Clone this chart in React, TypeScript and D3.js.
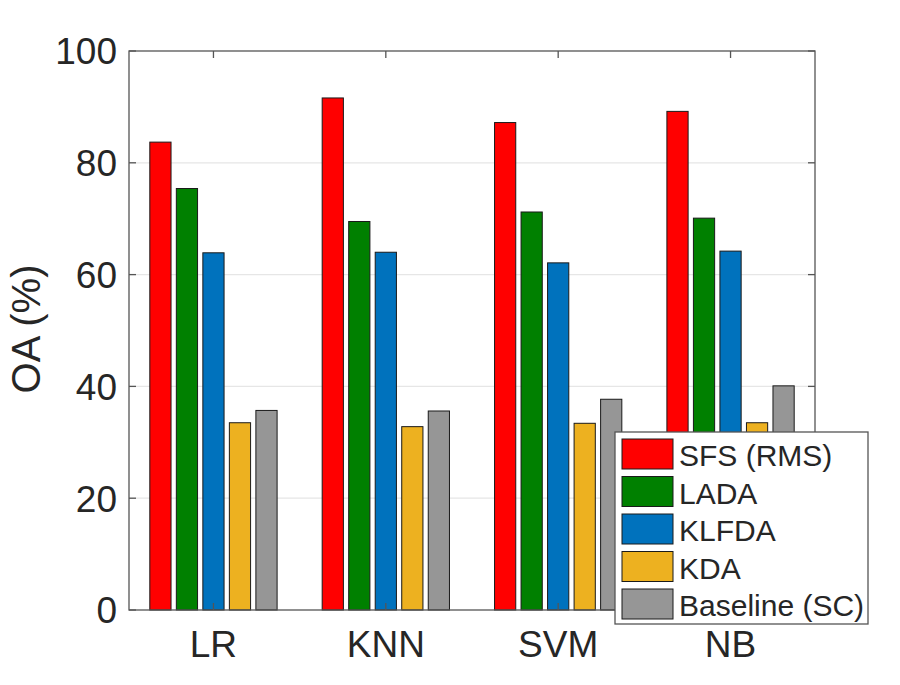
import React from "react";
import * as d3 from "d3";

const categories = ["LR", "KNN", "SVM", "NB"];
const seriesNames = ["SFS (RMS)", "LADA", "KLFDA", "KDA", "Baseline (SC)"];
const seriesColors = ["#ff0000", "#008000", "#0072bd", "#edb120", "#969696"];
const sfs = [83.7, 91.6, 87.2, 89.2];
const lada = [75.4, 69.5, 71.2, 70.1];
const klfda = [63.9, 64.0, 62.1, 64.2];
const kda = [33.5, 32.8, 33.4, 33.5];
const baseline = [35.7, 35.6, 37.7, 40.1];
const yTicks = [0, 20, 40, 60, 80, 100];

const seriesValues = [sfs, lada, klfda, kda, baseline];

const W = 900;
const H = 685;
const left = 129;
const right = 815;
const top = 51;
const bottom = 610;

export default function App() {
  const x = d3.scaleLinear().domain([0.51, 4.49]).range([left, right]);
  const y = d3.scaleLinear().domain([0, 100]).range([bottom, top]);
  const nS = seriesNames.length;
  const groupW = Math.min(0.8, nS / (nS + 1.5));
  const pitch = groupW / nS;
  const barW = pitch * 0.8;
  const unit = x(1) - x(0);
  const textColor = "#262626";
  const axisColor = "#555555";
  const tickLen = 7;

  const legX = 615;
  const legY = 432;
  const legW = 253;
  const legH = 192;
  const rowPitch = 37.5;

  return (
    <svg
      width={W}
      height={H}
      style={{ position: "absolute", left: 0, top: 0, background: "#fff" }}
      fontFamily="'Liberation Sans', Arial, Helvetica, sans-serif"
    >
      <rect x={0} y={0} width={W} height={H} fill="#fff" />
      {yTicks
        .filter((t) => t > 0 && t < 100)
        .map((t) => (
          <line key={"g" + t} x1={left} x2={right} y1={y(t)} y2={y(t)} stroke="#e6e6e6" strokeWidth={1.2} />
        ))}
      {seriesValues.map((vals, si) =>
        vals.map((v, ci) => {
          const cx = ci + 1 + (si - (nS - 1) / 2) * pitch;
          return (
            <rect
              key={`b${si}-${ci}`}
              x={x(cx) - (barW * unit) / 2}
              y={y(v)}
              width={barW * unit}
              height={y(0) - y(v)}
              fill={seriesColors[si]}
              stroke="#1a1a1a"
              strokeWidth={1}
            />
          );
        })
      )}
      <rect x={left} y={top} width={right - left} height={bottom - top} fill="none" stroke={axisColor} strokeWidth={1.3} />
      {yTicks.map((t) => (
        <g key={"yt" + t}>
          <line x1={left} x2={left + tickLen} y1={y(t)} y2={y(t)} stroke={axisColor} strokeWidth={1.3} />
          <line x1={right} x2={right - tickLen} y1={y(t)} y2={y(t)} stroke={axisColor} strokeWidth={1.3} />
          <text x={117} y={y(t)} dy="0.36em" textAnchor="end" fontSize={37} fill={textColor}>
            {t}
          </text>
        </g>
      ))}
      {categories.map((c, i) => (
        <g key={"xt" + c}>
          <line x1={x(i + 1)} x2={x(i + 1)} y1={top} y2={top + tickLen} stroke={axisColor} strokeWidth={1.3} />
          <line x1={x(i + 1)} x2={x(i + 1)} y1={bottom} y2={bottom - tickLen} stroke={axisColor} strokeWidth={1.3} />
          <text x={x(i + 1)} y={657} textAnchor="middle" fontSize={37} fill={textColor}>
            {c}
          </text>
        </g>
      ))}
      <text
        transform={`translate(40,${329}) rotate(-90)`}
        textAnchor="middle"
        fontSize={40}
        fill={textColor}
      >
        OA (%)
      </text>
      <rect x={legX} y={legY} width={legW} height={legH} fill="#fff" stroke={axisColor} strokeWidth={1.3} />
      {seriesNames.map((n, i) => {
        const sy = 439 + i * rowPitch;
        return (
          <g key={"l" + n}>
            <rect x={622} y={sy} width={51} height={30} fill={seriesColors[i]} stroke="#1a1a1a" strokeWidth={1} />
            <text x={679} y={sy + 27} fontSize={30} fill={textColor}>
              {n}
            </text>
          </g>
        );
      })}
    </svg>
  );
}
